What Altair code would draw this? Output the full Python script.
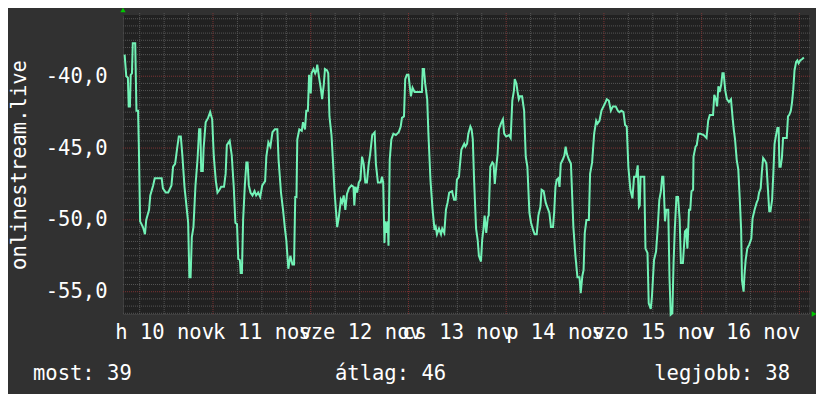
import altair as alt
import pandas as pd

# ---- data (hours since 10 Nov 00:00, values) ----
hours = [2.3, 2.7, 3.1, 3.3, 3.6, 3.8, 4.1, 4.3, 4.9, 5.2, 5.6, 5.8, 6.1, 6.8, 7.3, 7.6, 8.3, 8.6, 9.3, 9.7,
         10.9, 11.4, 11.7, 12.4, 13.0, 13.8, 14.2, 14.7, 15.2, 15.6, 16.1, 16.5, 17.0, 17.4, 17.9, 18.2, 18.5,
         18.8, 19.2, 19.7, 20.2, 20.6, 20.9, 21.1, 21.5, 21.7, 22.2, 22.8, 23.3, 23.8, 24.2, 24.7, 25.1, 25.6,
         26.0, 26.7, 27.1, 27.4, 28.1, 28.6, 29.1, 29.5, 29.9, 30.2, 30.6, 30.8, 31.1, 31.4, 31.8, 32.2, 32.5,
         32.8, 33.2, 33.7, 34.2, 34.6, 35.1, 35.6, 36.1, 36.8, 37.1, 37.6, 38.1, 38.6, 39.2, 39.8, 40.1, 40.7,
         41.2, 41.7, 42.0, 42.5, 43.0, 43.5, 43.9, 44.2, 44.5, 44.7, 45.2, 45.8, 46.1, 46.6, 46.9, 47.3, 47.6,
         48.0, 48.2, 48.7, 49.1, 49.4, 49.6, 50.0, 50.5, 50.8, 51.2, 51.5, 52.0, 52.3, 52.6, 53.1, 53.5, 53.8,
         54.1, 54.5, 54.9, 55.4, 55.7, 56.1, 56.5, 56.9, 57.4, 58.0, 58.5, 58.7, 59.0, 59.4, 59.8, 60.2, 60.6,
         61.0, 61.4, 61.8, 62.2, 62.6, 63.1, 63.7, 64.0, 64.5, 65.2, 65.5, 65.8, 66.1, 66.3, 66.6, 66.9, 67.1,
         67.4, 67.8, 68.3, 68.9, 69.6, 70.1, 70.4, 70.9, 71.2, 71.6, 72.0, 72.2, 72.6, 73.0, 73.5, 74.0, 74.9,
         75.3, 75.5, 75.8, 76.1, 76.6, 76.9, 77.4, 77.9, 78.4, 78.7, 79.0, 79.5, 80.0, 80.3, 80.8, 81.2, 81.6,
         82.0, 82.7, 83.2, 83.6, 83.9, 84.4, 84.6, 85.0, 85.7, 86.0, 86.4, 86.7, 87.2, 87.5, 87.8, 88.1, 88.6,
         89.0, 89.3, 89.8, 90.1, 90.4, 90.7, 91.1, 91.5, 91.7, 92.1, 92.6, 92.9, 93.2, 93.5, 93.9, 94.2, 94.7,
         95.2, 95.5, 96.0, 96.7, 97.1, 97.5, 97.9, 98.1, 98.5, 98.8, 99.1, 99.4, 99.9, 100.4, 100.8, 101.2,
         101.7, 102.1, 102.6, 103.0, 103.5, 103.9, 104.4, 104.7, 105.2, 105.7, 106.2, 106.6, 107.0, 107.5,
         107.8, 108.1, 108.4, 108.8, 109.1, 109.4, 109.9, 110.3, 110.6, 110.9, 111.4, 111.9, 112.2, 112.5,
         113.0, 113.5, 114.0, 114.3, 114.7, 115.0, 115.3, 115.7, 116.3, 116.6, 117.1, 117.6, 118.1, 118.4,
         118.9, 119.4, 119.9, 120.4, 120.7, 121.2, 121.7, 122.2, 122.9, 123.4, 123.8, 124.3, 124.8, 125.2,
         125.6, 126.0, 126.5, 127.0, 127.4, 127.9, 128.3, 128.6, 128.8, 129.0, 129.5, 129.9, 130.2, 130.7,
         131.0, 131.5, 131.8, 132.3, 132.8, 133.2, 133.6, 134.0, 134.3, 134.6, 135.0, 135.3, 135.8, 136.1,
         136.4, 136.8, 137.1, 137.4, 137.8, 138.2, 138.6, 138.9, 139.4, 139.9, 140.2, 140.5, 140.9, 141.2,
         141.5, 141.9, 142.0, 142.5, 142.8, 143.2, 143.7, 144.5, 145.2, 145.6, 146.0, 146.5, 146.8, 147.1,
         147.5, 147.8, 148.1, 148.4, 148.8, 149.1, 149.4, 149.8, 150.2, 150.7, 151.2, 151.6, 151.9, 152.2,
         152.6, 153.0, 153.4, 153.7, 153.9, 154.3, 154.5, 154.8, 155.2, 155.7, 156.2, 156.5, 157.0, 157.5,
         157.8, 158.1, 158.5, 158.8, 159.1, 159.6, 159.9, 160.3, 160.6, 160.9, 161.3, 161.6, 161.9, 162.2,
         162.6, 162.9, 163.1, 163.4, 163.7, 164.0, 164.4, 164.9, 165.2, 165.5, 165.9, 166.2, 166.5, 166.8,
         167.2, 167.5, 167.8, 168.2, 168.7, 169.1]

values = [-38.5, -40.0, -40.1, -42.1, -42.1, -39.9, -39.8, -37.7, -37.7, -42.4, -42.4, -45.0, -50.1, -50.5,
          -51.0, -50.0, -49.3, -48.3, -47.6, -47.1, -47.1, -47.1, -47.8, -48.1, -48.1, -47.6, -46.3, -46.1,
          -45.0, -44.2, -44.2, -45.6, -47.7, -48.8, -50.2, -54.0, -54.0, -51.2, -50.5, -47.6, -45.8, -43.7,
          -43.7, -46.6, -46.6, -45.0, -43.2, -42.9, -42.5, -43.0, -45.6, -47.3, -48.1, -47.9, -47.7, -47.7,
          -46.8, -44.8, -44.5, -45.5, -47.7, -50.2, -50.3, -52.7, -52.8, -53.7, -53.7, -50.0, -47.7, -46.0,
          -46.0, -47.6, -48.1, -48.3, -48.0, -48.3, -48.1, -48.4, -47.6, -47.3, -45.6, -44.6, -44.9, -43.9,
          -43.7, -43.7, -45.8, -48.1, -49.3, -50.7, -51.4, -53.4, -52.5, -53.1, -53.1, -48.4, -48.4, -44.4,
          -43.7, -43.8, -43.2, -43.7, -42.4, -42.4, -39.9, -41.2, -39.8, -39.5, -39.8, -39.6, -39.2, -40.0,
          -40.9, -41.6, -40.6, -39.5, -39.6, -39.8, -42.8, -44.1, -46.1, -47.8, -49.0, -50.5, -49.8, -48.6,
          -48.8, -48.3, -49.3, -48.2, -47.8, -47.6, -47.7, -49.0, -47.7, -48.1, -47.4, -47.2, -45.6, -46.1,
          -47.4, -47.4, -46.2, -45.4, -44.1, -43.9, -46.1, -47.4, -47.4, -47.0, -47.4, -51.6, -50.1, -50.9,
          -50.1, -51.8, -45.8, -44.4, -44.0, -44.1, -43.9, -43.5, -42.9, -42.8, -40.2, -39.9, -39.9, -40.4,
          -41.4, -40.8, -41.1, -41.1, -41.1, -41.1, -39.5, -39.5, -40.5, -41.6, -44.0, -47.2, -49.2, -50.7,
          -50.5, -51.0, -50.6, -51.0, -50.6, -50.9, -49.3, -48.8, -48.1, -48.0, -48.6, -48.6, -47.2, -47.0,
          -46.3, -45.1, -44.7, -44.9, -44.7, -44.0, -43.5, -43.7, -44.4, -47.1, -50.6, -51.4, -52.5, -52.9,
          -51.4, -50.7, -49.7, -50.9, -49.8, -49.7, -46.3, -46.0, -46.1, -47.5, -46.5, -45.4, -43.7, -43.3,
          -43.0, -44.0, -44.2, -44.1, -44.3, -41.7, -41.0, -40.2, -40.5, -41.1, -41.6, -41.4, -41.4, -42.4,
          -45.6, -46.3, -49.5, -50.2, -50.7, -51.0, -51.0, -49.7, -49.1, -47.9, -48.0, -48.8, -49.2, -49.5,
          -50.5, -50.5, -49.4, -47.7, -47.2, -47.1, -47.7, -46.1, -45.8, -45.5, -44.9, -45.4, -45.8, -46.1,
          -48.3, -50.5, -52.5, -54.0, -54.0, -55.1, -53.9, -53.5, -50.9, -50.0, -50.0, -46.8, -46.0, -44.0,
          -43.1, -43.3, -43.1, -42.4, -42.1, -41.8, -41.6, -41.7, -42.4, -42.1, -42.1, -42.4, -42.5, -42.4,
          -42.5, -43.4, -43.5, -46.3, -47.9, -48.5, -47.0, -47.0, -46.2, -49.1, -49.0, -47.0, -47.0, -47.0,
          -52.0, -52.3, -55.8, -56.2, -55.3, -52.8, -52.2, -50.6, -48.6, -48.0, -47.0, -47.0, -50.1, -49.3,
          -49.3, -54.0, -56.6, -56.5, -53.0, -50.7, -48.4, -48.4, -50.0, -53.0, -53.0, -50.8, -50.7, -52.0,
          -49.3, -49.3, -48.0, -47.9, -45.6, -44.9, -44.8, -44.0, -44.0, -44.1, -44.3, -43.1, -42.7, -42.7,
          -42.7, -41.3, -41.6, -42.1, -40.7, -41.1, -40.6, -39.8, -39.8, -41.0, -41.6, -41.8, -41.6, -42.9,
          -43.75, -44.4, -45.8, -46.5, -48.8, -50.7, -54.2, -55.0, -53.9, -52.8, -52.0, -51.7, -51.3, -49.9,
          -49.3, -48.8, -48.6, -48.1, -47.8, -46.6, -45.7, -45.9, -46.1, -48.0, -49.4, -49.4, -48.6, -46.8,
          -44.7, -44.2, -43.6, -43.6, -46.3, -46.3, -45.7, -44.3, -44.3, -44.3, -42.8, -42.7, -42.4, -41.8,
          -40.9, -39.6, -39.0, -38.9, -39.1, -38.9, -38.8, -38.7]

x_label_hours = [12, 36, 60, 84, 108, 132, 156]
x_labels = ["h 10 nov", "k 11 nov", "sze 12 nov", "cs 13 nov", "p 14 nov", "szo 15 nov", "v 16 nov"]
y_ticks = [-55, -50, -45, -40]
y_title = "onlinestream.live"
legend_items = ["most: 39", "átlag: 46", "legjobb: 38"]

X_DOMAIN = [1.9, 170.36]
Y_DOMAIN = [-56.55, -35.74]

W, H = 686, 299
FONT = "DejaVu Sans Mono"
FS = 20.5
TXT = "#ffffff"
BG = "#313131"
PLOT_BG = "#212121"
LINE = "#72f2b6"
MINOR = "#555555"
MAJOR = "#7c3333"
ARROW = "#00c800"

xs = alt.Scale(domain=X_DOMAIN, nice=False, zero=False)
ys = alt.Scale(domain=Y_DOMAIN, nice=False, zero=False)

expr = ""
for h, lab in zip(x_label_hours, x_labels):
    expr += f"datum.value == {h} ? '{lab}' : "
expr += "''"

AX_X = alt.Axis(
    values=x_label_hours, labelExpr=expr, grid=False, ticks=False, tickSize=0,
    labelPadding=24, labelBaseline="alphabetic", labelFont=FONT, labelFontSize=FS,
    labelColor=TXT, labelOverlap=False, labelFlush=False, labelBound=False,
    domainColor="#3e3e3e", title=None)
AX_Y = alt.Axis(
    values=y_ticks, grid=False, ticks=False, tickSize=0, labelPadding=16,
    labelExpr="replace(replace(format(datum.value, '.1f'), '.', ','), '\u2212', '-')",
    labelFont=FONT, labelFontSize=FS, labelColor=TXT, labelOverlap=False,
    labelFlush=False, labelBound=False, domainColor="#3e3e3e",
    title=y_title, titleFont=FONT, titleFontSize=FS, titleColor=TXT,
    titleFontWeight="normal", titlePadding=16)

# grid positions (every 6 h / every 0.5 unit; majors at midnight / every 5)
vmin = [h for h in range(6, 170, 6) if h % 24]
vmaj = [h for h in range(24, 170, 24)]
hmin = [-56.5 + 0.5 * k for k in range(42) if (-56.5 + 0.5 * k) % 5 != 0]
hmaj = [-55, -50, -45, -40]

def vrules(pos, color):
    return alt.Chart(pd.DataFrame({"h": pos})).mark_rule(
        color=color, strokeDash=[1, 1], strokeWidth=1
    ).encode(
        x=alt.X("h:Q", scale=xs, axis=AX_X),
        y=alt.value(-2), y2=alt.value(H),
    )

def hrules(pos, color):
    return alt.Chart(pd.DataFrame({"v": pos})).mark_rule(
        color=color, strokeDash=[1, 1], strokeWidth=1
    ).encode(
        y=alt.Y("v:Q", scale=ys, axis=AX_Y),
        x=alt.value(0), x2=alt.value(W + 2),
    )

df = pd.DataFrame({"h": hours, "v": values})
line = alt.Chart(df).mark_line(color=LINE, strokeWidth=2, strokeJoin="miter").encode(
    x=alt.X("h:Q", scale=xs, axis=AX_X),
    y=alt.Y("v:Q", scale=ys, axis=AX_Y),
)

one = pd.DataFrame({"k": [0]})
arrow_up = alt.Chart(one).mark_point(shape="triangle-up", filled=True, color=ARROW,
                                     size=28, opacity=1, yOffset=-5).encode(
    x=alt.datum(X_DOMAIN[0], scale=xs, axis=AX_X), y=alt.datum(Y_DOMAIN[1], scale=ys, axis=AX_Y))
arrow_right = alt.Chart(one).mark_point(shape="triangle-right", filled=True, color=ARROW,
                                        size=28, opacity=1, xOffset=5).encode(
    x=alt.datum(X_DOMAIN[1], scale=xs, axis=AX_X), y=alt.datum(Y_DOMAIN[0], scale=ys, axis=AX_Y))

def legend_text(txt, xpos, align):
    return alt.Chart(one).mark_text(font=FONT, fontSize=FS, color=TXT, align=align,
                                    baseline="alphabetic").encode(
        x=alt.value(xpos), y=alt.value(H + 66), text=alt.value(txt))

chart = alt.layer(
    vrules(vmin, MINOR), hrules(hmin, MINOR),
    vrules(vmaj, MAJOR), hrules(hmaj, MAJOR),
    line, arrow_up, arrow_right,
    legend_text(legend_items[0], -90, "left"),
    legend_text(legend_items[1], 212, "left"),
    legend_text(legend_items[2], 667, "right"),
).properties(
    width=W, height=H,
    padding={"left": 115, "top": 7, "right": 7, "bottom": 80},
    autosize=alt.AutoSizeParams(type="none"),
).configure(background=BG).configure_view(fill=PLOT_BG, stroke=None)

chart.save("out.html", embed_options={"renderer": "svg", "actions": False})
